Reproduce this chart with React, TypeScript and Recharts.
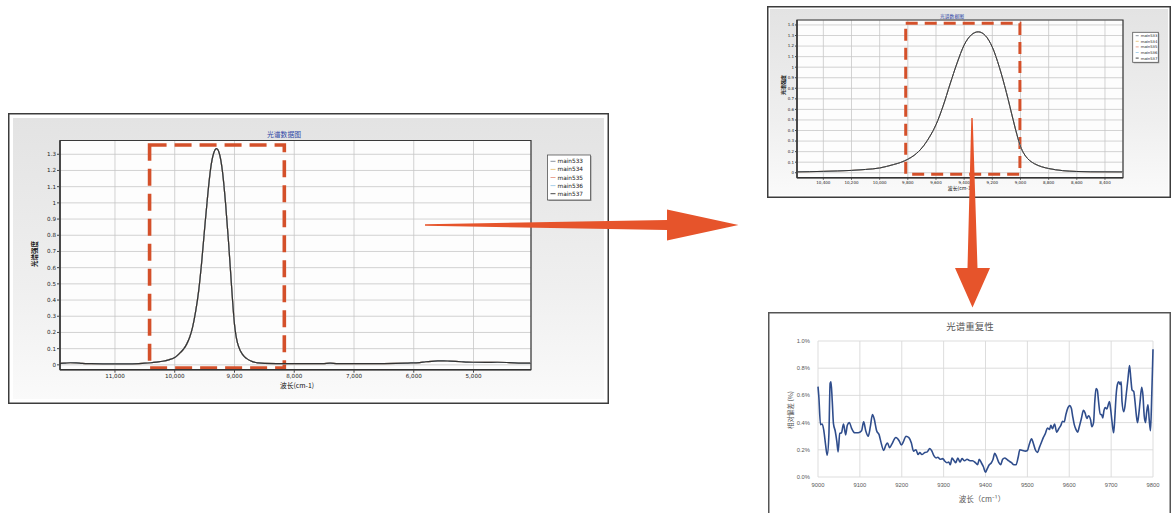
import React from 'react';
import { LineChart, Line, XAxis, YAxis, CartesianGrid, ReferenceArea } from 'recharts';

// ---------- spectrum (charts 1 & 2) ----------
const seriesNames = ['main533', 'main534', 'main535', 'main536', 'main537'];
const seriesColors = ['#7d8792', '#e8c47c', '#e79a86', '#9fcbe6', '#333333'];

const spectrumWavenumbers = [
  11920, 11850, 11750, 11650, 11550, 11400, 11200, 11000, 10800, 10600, 10500, 10400, 10300, 10200,
  10100, 10000, 9950, 9900, 9850, 9800, 9750, 9700, 9650, 9600, 9550, 9500, 9450, 9400, 9350, 9300, 9250,
  9200, 9150, 9100, 9050, 9025, 9000, 8975, 8950, 8900, 8850, 8800, 8700, 8600, 8500, 8300, 8100, 7900, 7700,
  7500, 7400, 7300, 7100, 6900, 6700, 6500, 6300, 6100, 5900, 5800, 5700, 5600, 5500, 5400, 5300,
  5200, 5100, 5000, 4800, 4600, 4400, 4200, 4038,
];
const spectrumIntensity = [
  0.009, 0.01, 0.013, 0.012, 0.009, 0.007, 0.006, 0.006, 0.006, 0.008, 0.01, 0.013, 0.017, 0.022,
  0.031, 0.045, 0.06, 0.078, 0.098, 0.128, 0.17, 0.235, 0.33, 0.455, 0.63, 0.84, 1.04, 1.21, 1.305, 1.335, 1.3,
  1.19, 1.0, 0.76, 0.49, 0.36, 0.25, 0.18, 0.135, 0.085, 0.057, 0.04, 0.02, 0.012, 0.009, 0.008, 0.008, 0.007, 0.007,
  0.008, 0.01, 0.008, 0.007, 0.007, 0.007, 0.008, 0.009, 0.011, 0.014, 0.019, 0.022, 0.024, 0.025, 0.023, 0.021,
  0.019, 0.017, 0.016, 0.015, 0.016, 0.014, 0.011, 0.01,
];

const fullXTicks = [11000, 10000, 9000, 8000, 7000, 6000, 5000];
const fullYTicks = [0, 0.1, 0.2, 0.3, 0.4, 0.5, 0.6, 0.7, 0.8, 0.9, 1, 1.1, 1.2, 1.3];
const zoomXTicks = [10400, 10200, 10000, 9800, 9600, 9400, 9200, 9000, 8800, 8600, 8400];
const zoomYTicks = [0, 0.1, 0.2, 0.3, 0.4, 0.5, 0.6, 0.7, 0.8, 0.9, 1, 1.1, 1.2, 1.3, 1.4];

// ---------- spectral repeatability (chart 3) ----------
const repeatWavenumbers = [
  9000, 9002, 9006, 9010, 9014, 9018, 9022, 9026, 9029, 9031, 9034, 9037, 9041, 9045, 9048, 9052,
  9056, 9061, 9066, 9070, 9075, 9080, 9088, 9096, 9104, 9109, 9114, 9120, 9125, 9130, 9134, 9140,
  9146, 9150, 9157, 9162, 9166, 9171, 9176, 9186, 9194, 9199, 9204, 9210, 9217, 9223, 9228, 9234,
  9239, 9243, 9248, 9255, 9261, 9267, 9272, 9277, 9282, 9286, 9292, 9298, 9302, 9308, 9312, 9316,
  9320, 9325, 9329, 9334, 9339, 9344, 9350, 9356, 9363, 9369, 9376, 9381, 9385, 9390, 9395, 9400,
  9404, 9409, 9414, 9418, 9422, 9427, 9432, 9436, 9441, 9446, 9451, 9455, 9462, 9468, 9473, 9478,
  9482, 9489, 9495, 9500, 9505, 9510, 9514, 9519, 9524, 9529, 9533, 9538, 9543, 9548, 9553, 9556,
  9560, 9565, 9570, 9575, 9580, 9584, 9588, 9592, 9597, 9601, 9605, 9608, 9612, 9616, 9620, 9624,
  9629, 9634, 9638, 9642, 9646, 9651, 9654, 9658, 9661, 9664, 9667, 9670, 9674, 9677, 9680, 9683,
  9686, 9690, 9693, 9696, 9699, 9702, 9706, 9709, 9712, 9715, 9718, 9722, 9724, 9726, 9730, 9733,
  9736, 9740, 9744, 9747, 9750, 9754, 9757, 9760, 9763, 9766, 9769, 9773, 9776, 9779, 9782, 9785,
  9788, 9791, 9794, 9797, 9799, 9800,
];
const repeatDeviation = [
  0.665, 0.59, 0.385, 0.39, 0.34, 0.24, 0.16, 0.31, 0.69, 0.7, 0.56, 0.39, 0.34, 0.26, 0.185, 0.32,
  0.325, 0.39, 0.31, 0.38, 0.4, 0.36, 0.325, 0.325, 0.34, 0.405, 0.34, 0.3, 0.37, 0.46, 0.43, 0.34,
  0.31, 0.26, 0.195, 0.235, 0.25, 0.215, 0.24, 0.29, 0.265, 0.235, 0.26, 0.3, 0.29, 0.25, 0.19, 0.2,
  0.165, 0.18, 0.165, 0.18, 0.185, 0.21, 0.19, 0.155, 0.14, 0.145, 0.13, 0.135, 0.12, 0.105, 0.11, 0.09,
  0.14, 0.12, 0.105, 0.14, 0.11, 0.135, 0.12, 0.13, 0.12, 0.12, 0.105, 0.09, 0.13, 0.105, 0.075, 0.035,
  0.06, 0.09, 0.105, 0.13, 0.175, 0.145, 0.105, 0.09, 0.13, 0.14, 0.13, 0.12, 0.105, 0.09, 0.09, 0.145,
  0.2, 0.195, 0.19, 0.195, 0.245, 0.28, 0.25, 0.2, 0.18, 0.22, 0.25, 0.29, 0.32, 0.36, 0.35, 0.38,
  0.355, 0.39, 0.33, 0.355, 0.38, 0.41, 0.405, 0.46, 0.51, 0.525, 0.505, 0.45, 0.385, 0.35, 0.33, 0.37,
  0.43, 0.49, 0.47, 0.43, 0.45, 0.42, 0.37, 0.4, 0.555, 0.65, 0.64, 0.555, 0.46, 0.46, 0.435, 0.49,
  0.51, 0.5, 0.53, 0.555, 0.495, 0.41, 0.325, 0.445, 0.605, 0.68, 0.7, 0.68, 0.7, 0.555, 0.48, 0.52,
  0.605, 0.715, 0.82, 0.725, 0.64, 0.63, 0.555, 0.46, 0.4, 0.46, 0.55, 0.66, 0.6, 0.45, 0.4, 0.48,
  0.53, 0.42, 0.34, 0.6, 0.82, 0.94,
];
const repeatXTicks = [9000, 9100, 9200, 9300, 9400, 9500, 9600, 9700, 9800];
const repeatYTicks = [0, 0.2, 0.4, 0.6, 0.8, 1.0];

const spectrumData = spectrumWavenumbers.map((wn, i) => {
  const row: Record<string, number> = { wn };
  seriesNames.forEach((n) => {
    row[n] = spectrumIntensity[i];
  });
  return row;
});
const repeatData = repeatWavenumbers.map((wn, i) => ({ wn, dev: repeatDeviation[i] }));

const fmtComma = (v: number) => String(v).replace(/\B(?=(\d{3})+(?!\d))/g, ',');
const CJK = '"Noto Sans CJK SC", "Noto Sans", sans-serif';
const LAT = '"DejaVu Sans", sans-serif';
const DASH = '#d4502a';
const ARROW = '#e6542b';

function SpectrumChart(props: {
  left: number; top: number; width: number; height: number; inset: number;
  margin: { top: number; right: number; bottom: number; left: number };
  xDomain: [number, number]; yDomain: [number, number]; xTicks: number[]; yTicks: number[];
  yWidth: number; xHeight: number; fontSize: number; tickSize: number; lineWidth: number;
  rect: { x1: number; x2: number; y1: number; y2: number }; dashW: number; dash: string;
}) {
  const p = props;
  return (
    <div style={{ position: 'absolute', left: p.left, top: p.top, width: p.width, height: p.height, background: '#fff' }}>
      <div style={{ position: 'absolute', left: p.inset, top: p.inset, right: p.inset, bottom: p.inset, background: 'linear-gradient(180deg,#e3e3e3 0%,#efefef 60%,#fafafa 100%)' }} />
      <div style={{ position: 'absolute', left: 0, top: 0 }}>
        <LineChart width={p.width} height={p.height} data={spectrumData} margin={p.margin}>
          <CartesianGrid stroke="#c6c6c6" strokeWidth={0.8} fill="#fdfdfd" />
          <XAxis dataKey="wn" type="number" domain={p.xDomain} reversed allowDataOverflow ticks={p.xTicks} interval={0}
            tickFormatter={fmtComma} height={p.xHeight} tickSize={p.tickSize} tickMargin={1.5}
            tick={{ fontSize: p.fontSize, fill: '#222', fontFamily: LAT }} axisLine={{ stroke: '#333', strokeWidth: 1.4 }} tickLine={{ stroke: '#444' }} />
          <YAxis type="number" domain={p.yDomain} allowDataOverflow ticks={p.yTicks} interval={0} width={p.yWidth}
            tickSize={p.tickSize} tickMargin={1} tick={{ fontSize: p.fontSize, fill: '#222', fontFamily: LAT }}
            axisLine={{ stroke: '#333', strokeWidth: 1.4 }} tickLine={{ stroke: '#444' }} />
          <ReferenceArea x1={p.xDomain[0]} x2={p.xDomain[1]} y1={p.yDomain[0]} y2={p.yDomain[1]} fill="none" stroke="#3a3a3a" strokeWidth={1.2} ifOverflow="visible" />
          {seriesNames.map((n, i) => (
            <Line key={n} dataKey={n} name={n} stroke={seriesColors[i]} strokeWidth={p.lineWidth} dot={false} type="monotone" isAnimationActive={false} />
          ))}
          <ReferenceArea x1={p.rect.x1} x2={p.rect.x2} y1={p.rect.y1} y2={p.rect.y2} fill="none" stroke={DASH} strokeWidth={p.dashW} strokeDasharray={p.dash} ifOverflow="visible" />
        </LineChart>
      </div>
    </div>
  );
}

function Legend(props: { x: number; y: number; w: number; h: number; row0: number; step: number; fs: number; sample: number }) {
  const { x, y, w, h, row0, step, fs, sample } = props;
  return (
    <g>
      <rect x={x + 1} y={y + 1} width={w} height={h} fill="#9a9a9a" />
      <rect x={x} y={y} width={w} height={h} fill="#ffffff" stroke="#555" strokeWidth={0.8} />
      {seriesNames.map((n, i) => (
        <g key={n}>
          <line x1={x + 3} x2={x + 3 + sample} y1={y + row0 + i * step} y2={y + row0 + i * step} stroke={seriesColors[i]} strokeWidth={0.9} />
          <text x={x + 5 + sample} y={y + row0 + i * step} dominantBaseline="central" fontSize={fs} fontFamily={LAT} fill="#222">{n}</text>
        </g>
      ))}
    </g>
  );
}

export default function App() {
  return (
    <div style={{ position: 'absolute', left: 0, top: 0, width: 1173, height: 513, overflow: 'hidden', background: '#fff' }}>
      {/* Chart 1: full spectrum */}
      <SpectrumChart left={8} top={113} width={601} height={291} inset={5}
        margin={{ top: 27.5, right: 78, bottom: 18.3, left: 22 }}
        xDomain={[4038, 11920]} yDomain={[-0.03, 1.385]} xTicks={fullXTicks} yTicks={fullYTicks}
        yWidth={30} xHeight={16} fontSize={5.6} tickSize={3} lineWidth={1.2}
        rect={{ x1: 10421, x2: 8166, y1: -0.02, y2: 1.357 }} dashW={3.6} dash="17 8" />
      {/* Chart 2: zoomed spectrum */}
      <SpectrumChart left={767} top={6} width={404} height={192} inset={3}
        margin={{ top: 14, right: 48, bottom: 8.3, left: 10 }}
        xDomain={[8272, 10587]} yDomain={[-0.047, 1.447]} xTicks={zoomXTicks} yTicks={zoomYTicks}
        yWidth={20} xHeight={12} fontSize={4} tickSize={2} lineWidth={1}
        rect={{ x1: 9815, x2: 9004, y1: -0.015, y2: 1.416 }} dashW={3} dash="12 7" />
      {/* Chart 3: repeatability */}
      <div style={{ position: 'absolute', left: 768, top: 312, width: 403, height: 205, background: '#fff' }}>
        <LineChart width={403} height={201} data={repeatData} margin={{ top: 29, right: 18, bottom: 20, left: 22 }}>
          <CartesianGrid stroke="#d9d9d9" strokeWidth={0.9} />
          <XAxis dataKey="wn" type="number" domain={[9000, 9800]} ticks={repeatXTicks} interval={0} height={16}
            axisLine={false} tickLine={false} tickSize={0} tickMargin={6}
            tick={{ fontSize: 5.8, fill: '#595959', fontFamily: '"Liberation Sans", sans-serif' }} />
          <YAxis type="number" domain={[0, 1]} ticks={repeatYTicks} interval={0} width={28}
            tickFormatter={(v: number) => v.toFixed(1) + '%'} axisLine={false} tickLine={false} tickSize={0} tickMargin={8}
            tick={{ fontSize: 5.8, fill: '#595959', fontFamily: '"Liberation Sans", sans-serif' }} />
          <Line dataKey="dev" stroke="#2f4d8c" strokeWidth={1.6} dot={false} type="monotone" isAnimationActive={false} />
        </LineChart>
      </div>

      <svg width={1173} height={513} style={{ position: 'absolute', left: 0, top: 0, pointerEvents: 'none' }}>
        {/* box borders */}
        <rect x={8.75} y={113.75} width={599.5} height={289.5} fill="none" stroke="#3c3c3c" strokeWidth={1.5} />
        <rect x={767.75} y={6.75} width={402.5} height={190.5} fill="none" stroke="#3c3c3c" strokeWidth={1.5} />
        <rect x={768.75} y={312.75} width={401.5} height={215} fill="none" stroke="#555" strokeWidth={1.5} />

        {/* chart 1 texts */}
        <text x={284} y={134} textAnchor="middle" dominantBaseline="central" fontSize={6.8} fontFamily={CJK} fill="#3048a6">光谱数据图</text>
        <text x={34} y={254} textAnchor="middle" dominantBaseline="central" fontSize={6.5} fontWeight="bold" fontFamily={CJK} fill="#111" transform="rotate(-90 34 254)">光谱强度</text>
        <text x={297} y={385} textAnchor="middle" dominantBaseline="central" fontSize={6.8} fontFamily={CJK} fill="#111">波长(cm-1)</text>
        <Legend x={547.5} y={155} w={43} h={45} row0={6.3} step={8.1} fs={5.8} sample={5} />

        {/* chart 2 texts */}
        <text x={952} y={15.7} textAnchor="middle" dominantBaseline="central" fontSize={4.8} fontFamily={CJK} fill="#3048a6">光谱数据图</text>
        <text x={782} y={85} textAnchor="middle" dominantBaseline="central" fontSize={5} fontWeight="bold" fontFamily={CJK} fill="#111" transform="rotate(-90 782 85)">光谱强度</text>
        <text x={960} y={187.7} textAnchor="middle" dominantBaseline="central" fontSize={4.9} fontFamily={CJK} fill="#111">波长(cm-1)</text>
        <Legend x={1132.7} y={32.3} w={25.6} h={30} row0={3.4} step={5.6} fs={3.8} sample={3} />

        {/* chart 3 texts */}
        <text x={970} y={326} textAnchor="middle" dominantBaseline="central" fontSize={9.5} fontFamily={CJK} fill="#595959">光谱重复性</text>
        <text x={790} y={410} textAnchor="middle" dominantBaseline="central" fontSize={6.5} fontFamily={CJK} fill="#595959" transform="rotate(-90 790 410)">相对偏差 (%)</text>
        <text x={982} y={498} textAnchor="middle" dominantBaseline="central" fontSize={7.5} fontFamily={CJK} fill="#595959">波长（cm⁻¹）</text>

        {/* arrows */}
        <polygon points="425,224.2 667,220 667,209.5 738.5,225 667,240.5 667,230 425,225.8" fill={ARROW} />
        <polygon points="971.3,118 972.7,118 977.5,268 990,268 972.5,307.5 955,268 967.5,268" fill={ARROW} />
      </svg>
    </div>
  );
}
